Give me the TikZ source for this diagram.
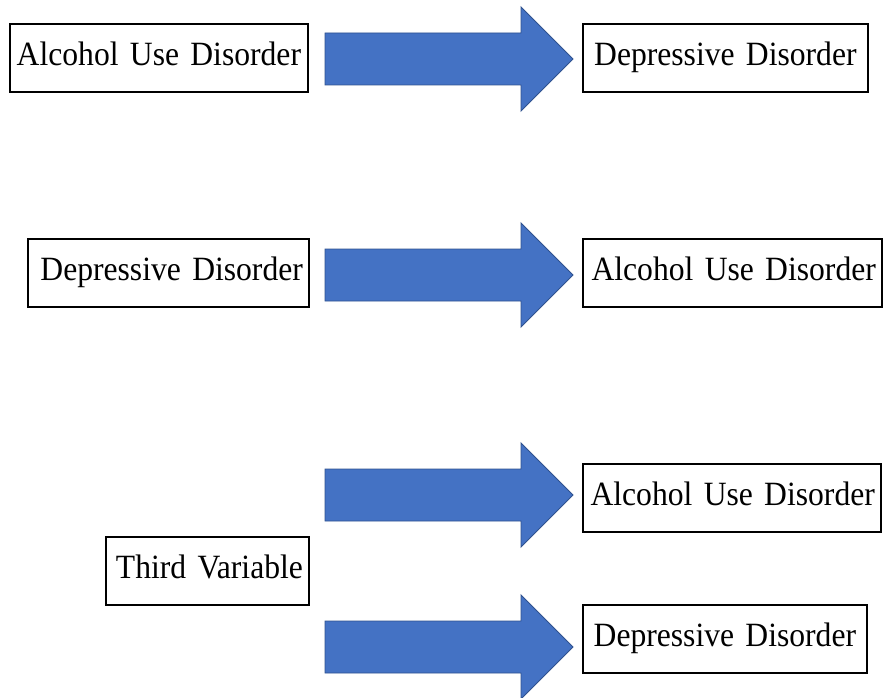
\documentclass[tikz,border=0pt]{standalone}
\usepackage{fontspec}
\setmainfont[FakeStretch=0.93]{Liberation Serif}
\usepackage{xcolor}
\usetikzlibrary{calc,positioning}

\definecolor{arrowblue}{HTML}{4472C4}
\definecolor{arrowedge}{HTML}{2F528F}
\DeclareRobustCommand{\boxfont}{\fontsize{34}{40}\selectfont\spaceskip=7pt\relax}

\tikzset{
  box/.style={draw, line width=1.8pt, inner xsep=6pt, inner ysep=0pt,
    minimum height=68pt, text height=23pt, text depth=8pt,
    font=\boxfont, anchor=north west},
  blockarrow/.style={fill=arrowblue, draw=arrowedge, line width=0.9pt, line join=miter}
}

\begin{document}
\begin{tikzpicture}[x=1pt,y=-1pt]
	\useasboundingbox (0,0) rectangle (883,698);
	
	% first row
	\node[box, text width=286pt, align=center] (aud1) at (9,23) {Alcohol Use Disorder};
	\node[box, text width=273pt, align=center] (dd1) at (582,23) {Depressive Disorder};
	
	% second row
	\node[box, text width=269pt, align=right] (dd2) at (27,238) {Depressive Disorder};
	\node[box, text width=287pt, align=right] (aud2) at (582,238) {Alcohol Use Disorder};
	
	% third variable
	\node[box, text width=191pt, align=right] (third) at (105,536) {Third Variable};
	\node[box, text width=286pt, align=right] (aud3) at (582,463) {Alcohol Use Disorder};
	\node[box, text width=272pt, align=center] (dd3) at (582,604) {Depressive Disorder};
	
	% block arrows
	\foreach \ty in {59,275,495,647}{
		\draw[blockarrow] (325,\ty-26) -- (521,\ty-26) -- (521,\ty-52) -- (573,\ty)
		-- (521,\ty+52) -- (521,\ty+26) -- (325,\ty+26) -- cycle;}
\end{tikzpicture}
\end{document}
